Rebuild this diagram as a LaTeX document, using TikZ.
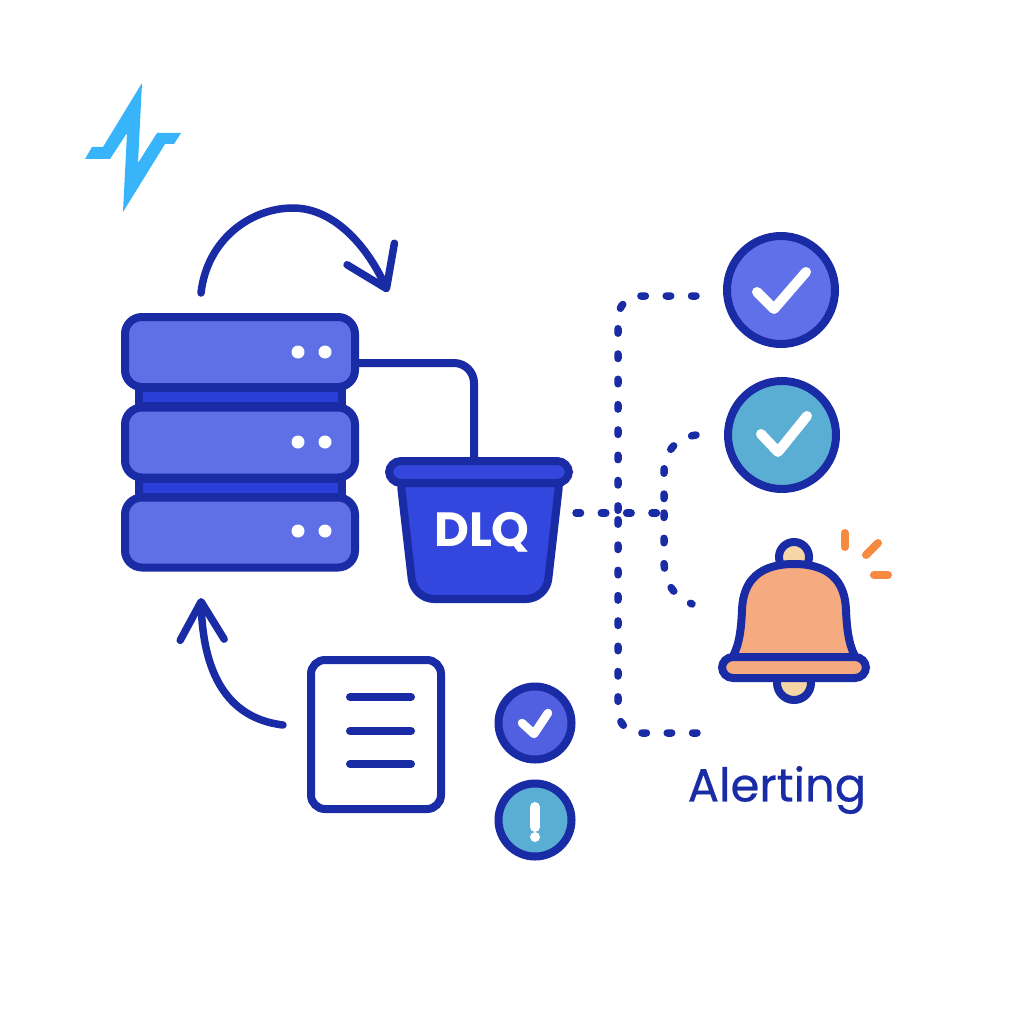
\documentclass[tikz,border=0pt]{standalone}
\usepackage{fontspec}
\setmainfont{Poppins}
\newfontfamily\labelfont[FakeBold=0.5]{Poppins}
\usetikzlibrary{positioning,arrows.meta}

\definecolor{inkblue}{HTML}{1A2BA6}
\definecolor{rackblue}{HTML}{5F70E6}
\definecolor{barblue}{HTML}{2B3FD8}
\definecolor{dlqblue}{HTML}{3346DE}
\definecolor{okblue}{HTML}{6070E8}
\definecolor{tealblue}{HTML}{5AADD3}
\definecolor{smallblue}{HTML}{5060E0}
\definecolor{boltblue}{HTML}{38B4FB}
\definecolor{bellpeach}{HTML}{F5AA80}
\definecolor{palepeach}{HTML}{F6D5A6}
\definecolor{sparkorange}{HTML}{F58A40}

\begin{document}
\begin{tikzpicture}[
  x = 1pt,
  y = -1pt,
  ink/.style={draw=inkblue,line width=8pt},
  rack/.style={ink,fill=rackblue,rounded corners=17pt,minimum width=230pt,minimum height=70pt,inner sep=0pt},
  rackbar/.style={ink,fill=barblue,minimum width=203pt,minimum height=18pt,inner sep=0pt},
  led/.style={circle,fill=white,minimum size=13pt,inner sep=0pt},
  badge/.style={ink,circle,minimum size=108pt,inner sep=0pt},
  smallbadge/.style={ink,circle,minimum size=73pt,inner sep=0pt},
  tick/.style={draw=white,line width=10pt,line cap=round,line join=round},
  flow/.style={ink,line width=7.5pt,line cap=round,-{Straight Barb[length=38pt,width=#1,round]}},
  dots/.style={ink,line width=7.5pt,line cap=round,dash pattern=on 4.5pt off 20.8pt},
  spark/.style={draw=sparkorange,line width=8pt,line cap=round},
  docline/.style={ink,line cap=round},
  ]
  \useasboundingbox (0,0) rectangle (1024,1024);
  \fill[white] (0,0) rectangle (1024,1024);

  % bolt
  \fill[boltblue] (142,83) -- (138,163) -- (157,133) -- (181,133) -- (174,144) -- (165,144)
    -- (123,212) -- (127,133) -- (110,159) -- (85,159) -- (92,147) -- (103,147) -- cycle;

  % racks
  \node[rackbar] (barA) at (240.5,397) {};
  \node[rackbar] (barB) at (240.5,487.5) {};
  \node[rack] (rackA) at (240,352) {};
  \node[rack] (rackB) at (240,442.5) {};
  \node[rack] (rackC) at (240,532.5) {};
  \foreach \rk/\ypos in {A/352,B/442,C/531} {
    \node[led] (ledl\rk) at (298,\ypos) {};
    \node[led] (ledr\rk) at (325,\ypos) {};
  }

  % bucket
  \draw[ink,fill=dlqblue,rounded corners=20pt,line join=round]
    (399,468) -- (414,599) -- (546,599) -- (561,468) -- cycle;
  \node[ink,fill=dlqblue,rounded corners=12pt,minimum width=180pt,minimum height=22pt,inner sep=0pt] (rim) at (479,472) {};
  \node[text=white,font=\bfseries\fontsize{48}{48}\selectfont,inner sep=0pt] (dlq) at (482,532) {DLQ};
  \draw[ink,rounded corners=20pt] ([yshift=-11pt]rackA.east) -| ([xshift=-5pt]rim.north);

  % loops
  \coordinate (loopstart) at (201,293);
  \coordinate (loopend) at (388,292);
  \draw[flow=52pt] (loopstart) .. controls (207,240) and (250,208) .. (293,208)
    .. controls (335,208) and (368,248) .. (loopend);

  \node[ink,rounded corners=14pt,minimum width=130pt,minimum height=149pt,inner sep=0pt] (doc) at (376,734.5) {};
  \foreach \ypos in {697,731,764} {
    \draw[docline] (350,\ypos) -- (411,\ypos);
  }
  \coordinate (replaystart) at (283,725);
  \coordinate (replayend) at (201,598);
  \draw[flow=44pt] (replaystart) .. controls (225,718) and (203,670) .. (replayend);

  % badges
  \node[badge,fill=okblue] (okA) at (781,290) {};
  \draw[tick] (757,292) -- (774,309) -- (806,272);
  \node[badge,fill=tealblue] (okB) at (782,435) {};
  \draw[tick] (761,434) -- (778,452) -- (807,416);
  \node[smallbadge,fill=smallblue] (okC) at (535,723) {};
  \draw[tick,line width=8.5pt] (522,723) -- (534,734) -- (548,713);
  \node[smallbadge,fill=tealblue] (warn) at (535,820) {};
  \draw[tick] (535,807) -- (535,827);
  \fill[white] (535,837) circle (5pt);

  % dotted wires
  \coordinate (fanA) at (696,296);
  \coordinate (fanB) at (697,733);
  \coordinate (fanC) at (696,435);
  \coordinate (fanD) at (692,604);
  \coordinate (fansplit) at (618,513);
  \coordinate (fanmid) at (664,513);
  \draw[dots,rounded corners=22pt] (fanA) -- (618,296) -- (fansplit);
  \draw[dots,rounded corners=22pt] (fanB) -- (618,733) -- (fansplit);
  \draw[dots] (fanC) .. controls (676,438) and (664,452) .. (664,472) -- (fanmid);
  \draw[dots] (fanmid) -- (664,560) .. controls (664,585) and (675,596) .. (fanD);
  \draw[dots] (576,513) -- (fanmid);

  % bell
  \draw[ink,fill=palepeach] (794,557) circle (15pt);
  \draw[ink,fill=palepeach] (794,683) circle (17pt);
  \draw[ink,fill=bellpeach,line join=round] (731,660) .. controls (738,648) and (741,635) .. (742,610)
    .. controls (743,580) and (760,564) .. (794,564)
    .. controls (828,564) and (845,580) .. (846,610)
    .. controls (847,635) and (850,648) .. (857,660) -- cycle;
  \node[ink,fill=bellpeach,rounded corners=11pt,minimum width=144pt,minimum height=21pt,inner sep=0pt] (bellrim) at (794,667.5) {};
  \draw[spark] (845,533) -- (845,547);
  \draw[spark] (866,555) -- (878,543);
  \draw[spark] (874,575) -- (888,575);

  \node[text=inkblue,font=\labelfont\fontsize{46.5}{46.5}\selectfont,inner sep=0pt] (alerting) at (777,790) {Alerting};
\end{tikzpicture}
\end{document}
